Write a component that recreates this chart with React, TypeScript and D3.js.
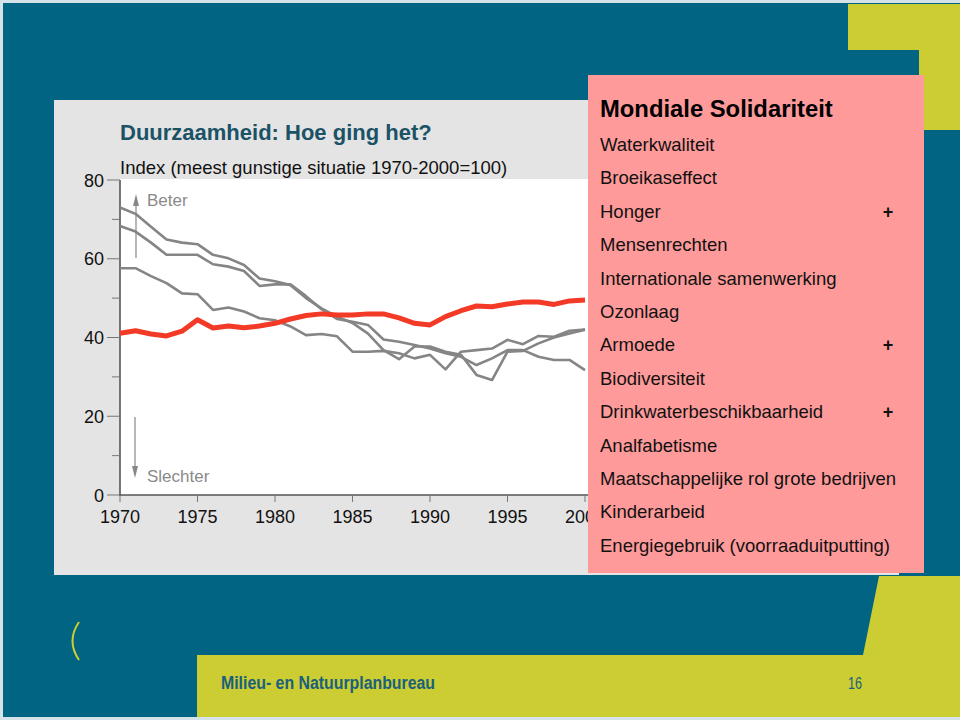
import React from "react";
import * as d3 from "d3";

const years = d3.range(1970, 2001);
const redSeries = [41.1, 41.7, 40.9, 40.4, 41.6, 44.5, 42.4, 42.9, 42.5, 42.9, 43.6, 44.7, 45.6, 46, 45.7, 45.7, 46, 46, 45, 43.6, 43.2, 45.3, 46.8, 48, 47.8, 48.5, 49, 49, 48.4, 49.3, 49.5];
const greyA = [73, 71.4, 68.1, 64.9, 64.1, 63.7, 61, 60.1, 58.4, 55, 54.3, 53.3, 50, 47.4, 45.3, 43.7, 41, 36.8, 34.5, 37.7, 37.7, 36.4, 35.6, 30.5, 29.2, 36.4, 36.6, 38.5, 40, 41, 42];
const greyB = [68.3, 66.9, 64.1, 61, 61, 61, 58.6, 58, 56.9, 53.1, 53.5, 53.5, 50.5, 47.2, 44.7, 44, 43.2, 39.5, 38.9, 38.1, 37.2, 36, 35.1, 33, 34.7, 36.8, 36.8, 35.1, 34.3, 34.3, 31.7];
const greyC = [57.6, 57.6, 55.6, 53.8, 51.2, 51, 47, 47.6, 46.6, 44.9, 44.4, 42.8, 40.6, 40.9, 40.3, 36.4, 36.4, 36.6, 36, 34.7, 35.6, 31.9, 36.4, 36.8, 37.2, 39.4, 38.3, 40.4, 40.2, 41.7, 42];
const xTicks = [1970, 1975, 1980, 1985, 1990, 1995, 2000];
const yTicks = [0, 20, 40, 60, 80];
const yMinorTicks = [10, 30, 50, 70];
const legendItems = [
  "Waterkwaliteit",
  "Broeikaseffect",
  "Honger",
  "Mensenrechten",
  "Internationale samenwerking",
  "Ozonlaag",
  "Armoede",
  "Biodiversiteit",
  "Drinkwaterbeschikbaarheid",
  "Analfabetisme",
  "Maatschappelijke rol grote bedrijven",
  "Kinderarbeid",
  "Energiegebruik (voorraaduitputting)",
];
const plusItems = ["Honger", "Armoede", "Drinkwaterbeschikbaarheid"];

const FONT = "'Liberation Sans', Arial, sans-serif";
const TEAL = "#006482";
const YELLOW = "#cbcd32";
const PINK = "#ff9a9a";

export default function App() {
  const x = d3.scaleLinear().domain([1970, 2000]).range([120, 585]);
  const y = d3.scaleLinear().domain([0, 80]).range([495, 180]);
  const line = d3
    .line<number>()
    .x((_, i) => x(years[i]))
    .y((d) => y(d));
  const greys = [greyA, greyB, greyC];

  return (
    <svg
      width={960}
      height={720}
      style={{ position: "absolute", left: 0, top: 0 }}
      fontFamily={FONT}
    >
      <rect x={0} y={0} width={960} height={720} fill="#d5e3e9" />
      <rect x={3} y={3} width={957} height={714} fill={TEAL} />
      {/* top-right yellow */}
      <polygon points="848,4 960,4 960,130 919,130 919,50 848,50" fill={YELLOW} />
      {/* bottom yellow */}
      <polygon points="879,576 960,576 960,717 197,717 197,655 863,655" fill={YELLOW} />
      {/* parenthesis */}
      <path d="M79,622 Q66,641 79,660" fill="none" stroke={YELLOW} strokeWidth={2} />
      {/* chart panel */}
      <rect x={54} y={100} width={845} height={475} fill="#e4e4e4" />
      <rect x={120} y={179} width={480} height={316} fill="#ffffff" />
      <text x={120} y={140} fontSize={22} fontWeight="bold" fill="#1b5266">
        Duurzaamheid: Hoe ging het?
      </text>
      <text x={120} y={174} fontSize={18.5} fill="#111">
        Index (meest gunstige situatie 1970-2000=100)
      </text>
      {/* axes */}
      <line x1={120} y1={180} x2={120} y2={496} stroke="#555" strokeWidth={1.6} />
      <line x1={119} y1={495} x2={600} y2={495} stroke="#555" strokeWidth={1.6} />
      {yTicks.map((t) => (
        <g key={"y" + t}>
          <line x1={107} x2={120} y1={y(t)} y2={y(t)} stroke="#777" strokeWidth={1} />
          <text x={104} y={y(t) + 6.5} fontSize={18} textAnchor="end" fill="#111">
            {t}
          </text>
        </g>
      ))}
      {yMinorTicks.map((t) => (
        <line key={"ym" + t} x1={112} x2={120} y1={y(t)} y2={y(t)} stroke="#777" strokeWidth={1} />
      ))}
      {xTicks.map((t) => (
        <g key={"x" + t}>
          <line x1={x(t)} x2={x(t)} y1={495} y2={502} stroke="#777" strokeWidth={1} />
          <text x={x(t)} y={523} fontSize={18} textAnchor="middle" fill="#111">
            {t}
          </text>
        </g>
      ))}
      {/* Beter / Slechter */}
      <line x1={136} y1={258} x2={136} y2={204} stroke="#888" strokeWidth={1.2} />
      <polygon points="136,194 133,206 139,206" fill="#888" />
      <text x={147} y={206} fontSize={17} fill="#8a8a8a">Beter</text>
      <line x1={135} y1={417} x2={135} y2={470} stroke="#888" strokeWidth={1.2} />
      <polygon points="135,478 132,466 138,466" fill="#888" />
      <text x={147} y={482} fontSize={17} fill="#8a8a8a">Slechter</text>
      {/* lines */}
      {greys.map((g, i) => (
        <path
          key={"g" + i}
          d={line(g) || ""}
          fill="none"
          stroke="#858585"
          strokeWidth={2.6}
          strokeLinejoin="round"
        />
      ))}
      <path
        d={line(redSeries) || ""}
        fill="none"
        stroke="#f23a26"
        strokeWidth={5}
        strokeLinejoin="round"
      />
      {/* pink box */}
      <rect x={588} y={75} width={336} height={498} fill={PINK} />
      <text x={600} y={117} fontSize={23.8} fontWeight="bold" fill="#000">
        Mondiale Solidariteit
      </text>
      {legendItems.map((item, i) => (
        <g key={item}>
          <text x={600} y={151 + i * 33.4} fontSize={18.5} fill="#111">
            {item}
          </text>
          {plusItems.includes(item) && (
            <text x={888} y={151 + i * 33.4} fontSize={18} fontWeight="bold" textAnchor="middle" fill="#111">
              +
            </text>
          )}
        </g>
      ))}
      {/* footer */}
      <text
        x={221}
        y={689}
        fontSize={18}
        fontWeight="bold"
        fill="#1a607c"
        fontFamily="'Liberation Sans Narrow', 'Liberation Sans', Arial, sans-serif"
        textLength={214}
        lengthAdjust="spacingAndGlyphs"
      >
        Milieu- en Natuurplanbureau
      </text>
      <text
        x={848}
        y={689}
        fontSize={17}
        fill="#1a607c"
        fontFamily="'Liberation Sans Narrow', 'Liberation Sans', Arial, sans-serif"
        textLength={14}
        lengthAdjust="spacingAndGlyphs"
      >
        16
      </text>
    </svg>
  );
}
